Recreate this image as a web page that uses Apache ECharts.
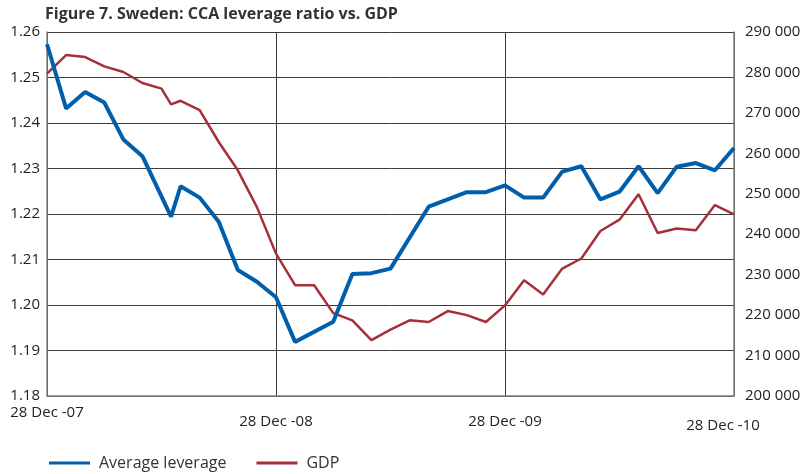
<!DOCTYPE html>
<html>
<head>
<meta charset="utf-8">
<script src="https://cdn.jsdelivr.net/npm/echarts@6/dist/echarts.min.js"></script>
<style>
  html, body { margin: 0; padding: 0; background: #fff; }
  #chart { width: 805px; height: 474px; }
</style>
</head>
<body>
<div id="chart"></div>
<script>
// months after 28 Dec 2007 (one extra reading in mid-2008)
const months = [0, 1, 2, 3, 4, 5, 6, 6.5, 7, 8, 9, 10, 11, 12, 13, 14, 15, 16, 17, 18,
  19, 20, 21, 22, 23, 24, 25, 26, 27, 28, 29, 30, 31, 32, 33, 34, 35, 36];

const leverage = [1.2573, 1.2432, 1.2468, 1.2445, 1.2364, 1.2327, null, 1.2194, 1.2261, 1.2236,
  1.2183, 1.2077, 1.2051, 1.2017, 1.1919, null, 1.1963, 1.2068, 1.2070, 1.2080,
  null, 1.2216, 1.2232, 1.2248, 1.2248, 1.2263, 1.2236, 1.2236, 1.2293, 1.2305,
  1.2232, 1.2249, 1.2305, 1.2246, 1.2304, 1.2312, 1.2296, 1.2345];

const gdp = [279700, 284300, 283800, 281500, 280100, 277400, 276000, 272100, 273000, 270700,
  262800, 255800, 246700, 235200, 227400, 227400, 220500, 218700, 213800, 216400,
  218700, 218300, 221000, 220000, 218300, 222400, 228600, 225100, 231500, 234000,
  240800, 243600, 249900, 240300, 241400, 241000, 247200, 244900];

const xLabels = { 0: "28 Dec -07", 12: "28 Dec -08", 24: "28 Dec -09", 36: "28 Dec -10" };

const pairs = (vals) => months.map((m, i) => [m, vals[i]]).filter((p) => p[1] !== null);

const FONT = "Open Sans";
const chart = echarts.init(document.getElementById("chart"));

const options = {
  animation: false,
  textStyle: { fontFamily: FONT },
  title: {
    text: "Figure 7. Sweden: CCA leverage ratio vs. GDP",
    left: 40,
    top: 1,
    textStyle: { fontFamily: FONT, fontSize: 16, fontWeight: "bold", color: "#333" },
  },
  legend: {
    left: 44,
    top: 450,
    itemWidth: 41,
    itemHeight: 3,
    itemGap: 30,
    icon: "rect",
    textStyle: { fontFamily: FONT, fontSize: 16, color: "#333", padding: [0, 0, 0, 4] },
    data: ["Average leverage", "GDP"],
  },
  grid: { left: 47, right: 71, top: 32, bottom: 78, containLabel: false },
  xAxis: {
    type: "value",
    min: 0,
    max: 36,
    interval: 12,
    axisLine: { lineStyle: { color: "#808080", width: 1.5 } },
    axisTick: { show: false },
    splitLine: { show: true, lineStyle: { color: "#3c3c3c", width: 1 } },
    axisLabel: {
      margin: 9,
      formatter: (v) => {
        if (v === 0) return "{a|" + xLabels[v] + "}";
        if (v === 36) return "{c|" + xLabels[v] + "}";
        return "{b|" + (xLabels[v] || "") + "}";
      },
      rich: {
        a: { fontFamily: FONT, fontSize: 15, color: "#222" },
        b: { fontFamily: FONT, fontSize: 15, color: "#222", padding: [9, 0, 0, 0] },
        c: { fontFamily: FONT, fontSize: 15, color: "#222", padding: [13, 22, 0, 0] },
      },
    },
  },
  yAxis: [
    {
      type: "value",
      min: 1.18,
      max: 1.26,
      interval: 0.01,
      axisLine: { show: true, lineStyle: { color: "#808080", width: 1.5 } },
      axisTick: { show: false },
      splitLine: { show: true, lineStyle: { color: "#3c3c3c", width: 1 } },
      axisLabel: {
        margin: 7,
        fontFamily: FONT,
        fontSize: 15,
        color: "#222",
        formatter: (v) => v.toFixed(2),
      },
    },
    {
      type: "value",
      min: 200000,
      max: 290000,
      interval: 10000,
      position: "right",
      axisLine: { show: true, lineStyle: { color: "#808080", width: 1.5 } },
      axisTick: { show: false },
      splitLine: { show: false },
      axisLabel: {
        margin: 11,
        fontFamily: FONT,
        fontSize: 15,
        color: "#222",
        formatter: (v) => String(v).replace(/\B(?=(\d{3})+(?!\d))/g, " "),
      },
    },
  ],
  series: [
    {
      name: "Average leverage",
      type: "line",
      yAxisIndex: 0,
      data: pairs(leverage),
      showSymbol: false,
      lineStyle: { color: "#005eaa", width: 4 },
      itemStyle: { color: "#005eaa" },
      z: 3,
    },
    {
      name: "GDP",
      type: "line",
      yAxisIndex: 1,
      data: pairs(gdp),
      showSymbol: false,
      lineStyle: { color: "#a5303a", width: 2.5 },
      itemStyle: { color: "#a5303a" },
      z: 2,
    },
  ],
};

chart.setOption(options);
</script>
</body>
</html>
